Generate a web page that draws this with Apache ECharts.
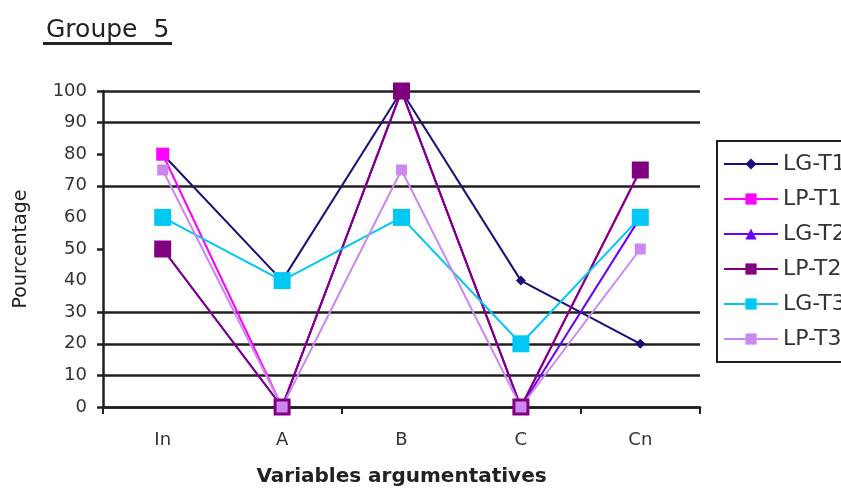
<!DOCTYPE html>
<html>
<head>
<meta charset="utf-8">
<script src="https://cdn.jsdelivr.net/npm/echarts@6/dist/echarts.min.js"></script>
<style>
  html, body { margin: 0; padding: 0; background: #ffffff; }
  #chart { width: 841px; height: 492px; }
</style>
</head>
<body>
<div id="chart"></div>
<script>
// Categories (argumentative variables) and percentage per series
const categories = ['In', 'A', 'B', 'C', 'Cn'];
const lgT1 = [80, 40, 100, 40, 20];
const lpT1 = [80, 0, 100, 0, 75];
const lgT2 = [50, 0, 100, 0, 60];
const lpT2 = [50, 0, 100, 0, 75];
const lgT3 = [60, 40, 60, 20, 60];
const lpT3 = [75, 0, 75, 0, 50];
const seriesNames = ['LG-T1', 'LP-T1', 'LG-T2', 'LP-T2', 'LG-T3', 'LP-T3'];
const yTicks = [0, 10, 20, 30, 50, 70, 80, 90, 100];

const FONT = 'DejaVu Sans, Verdana, sans-serif';
const INK = '#231f20';
const GAP = 'rgba(0,0,0,0)';

const chart = echarts.init(document.getElementById('chart'), null, { renderer: 'canvas' });

function lineSeries(name, data, color, symbol, size, width) {
  return {
    name: name,
    type: 'line',
    data: data,
    symbol: symbol,
    symbolSize: size,
    showAllSymbol: true,
    lineStyle: { color: color, width: width },
    itemStyle: { color: color },
    emphasis: { disabled: true },
    animation: false
  };
}

chart.setOption({
  backgroundColor: '#ffffff',
  animation: false,
  title: {
    text: 'Groupe  5',
    left: 41,
    top: 13,
    textStyle: { fontFamily: FONT, fontSize: 25, fontWeight: 'normal', color: '#222' }
  },
  graphic: [{
    type: 'rect',
    left: 43,
    top: 42,
    shape: { width: 129, height: 3 },
    style: { fill: '#222' }
  }],
  legend: {
    orient: 'vertical',
    left: 717,
    top: 141,
    data: seriesNames,
    itemWidth: 54,
    itemHeight: 14,
    itemGap: 13,
    padding: [12, 40, 12, 6],
    borderColor: INK,
    borderWidth: 2,
    textStyle: { fontFamily: FONT, fontSize: 22, lineHeight: 20, color: '#333' }
  },
  grid: { left: 103, right: 141, top: 91, bottom: 80, containLabel: false },
  xAxis: {
    type: 'category',
    data: categories,
    boundaryGap: true,
    name: 'Variables argumentatives',
    nameLocation: 'middle',
    nameGap: 60,
    nameTextStyle: { fontFamily: FONT, fontSize: 20, fontWeight: 'bold', color: '#222' },
    axisLine: { lineStyle: { color: INK, width: 2.5 } },
    axisTick: { show: true, interval: 1, length: 7, lineStyle: { color: INK, width: 2 } },
    axisLabel: { fontFamily: FONT, fontSize: 18, color: '#333', margin: 24 },
    splitLine: { show: false }
  },
  yAxis: {
    type: 'value',
    min: 0,
    max: 100,
    interval: 10,
    name: 'Pourcentage',
    nameLocation: 'middle',
    nameRotate: 90,
    nameGap: 72,
    nameTextStyle: { fontFamily: FONT, fontSize: 19, color: '#222' },
    axisLine: { show: true, lineStyle: { color: INK, width: 2.5 } },
    axisTick: { show: true, length: 6, customValues: yTicks, lineStyle: { color: INK, width: 2.5 } },
    axisLabel: { fontFamily: FONT, fontSize: 18, color: '#333', margin: 16 },
    splitLine: {
      show: true,
      lineStyle: {
        width: 2.5,
        // 0..100 in steps of 10; the 40 and 60 rules are left out
        color: [INK, INK, INK, INK, GAP, INK, GAP, INK, INK, INK, INK]
      }
    }
  },
  series: [
    lineSeries('LG-T1', lgT1, '#1c0f7a', 'diamond', 10, 2),
    lineSeries('LP-T1', lpT1, '#ff00ff', 'rect', 13, 2),
    lineSeries('LG-T2', lgT2, '#6a00ff', 'triangle', 10, 2),
    lineSeries('LP-T2', lpT2, '#800080', 'rect', 17, 2),
    lineSeries('LG-T3', lgT3, '#00c8f5', 'rect', 17, 2),
    lineSeries('LP-T3', lpT3, '#cc88f0', 'rect', 11, 2)
  ]
});
</script>
</body>
</html>
